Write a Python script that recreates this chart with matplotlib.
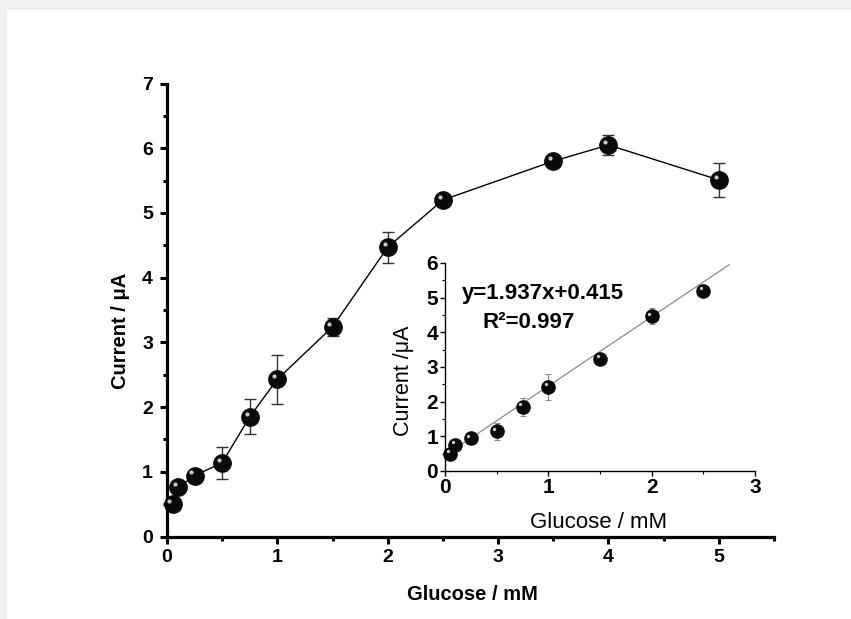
import matplotlib
matplotlib.use("Agg")
import matplotlib.pyplot as plt
import numpy as np
from matplotlib.transforms import offset_copy
from matplotlib.ticker import MultipleLocator
from matplotlib.patches import Rectangle

plt.rcParams['font.family'] = ['Liberation Sans', 'DejaVu Sans']

# ---- data ----
glucose = [0.05, 0.1, 0.25, 0.5, 0.75, 1.0, 1.5, 2.0, 2.5, 3.5, 4.0, 5.0]
current = [0.50, 0.76, 0.94, 1.14, 1.85, 2.43, 3.24, 4.47, 5.20, 5.80, 6.05, 5.51]
current_err = [0.05, 0.05, 0.05, 0.25, 0.27, 0.38, 0.14, 0.24, 0.05, 0.05, 0.15, 0.26]
n_linear = 9  # points used in the inset calibration
fit_slope = 2.0
fit_intercept = 0.45
fit_x = [0.03, 2.75]
eq_text = "y=1.937x+0.415"
r2_text = "R\u00b2=0.997"
main_xticks = [0, 1, 2, 3, 4, 5]
main_yticks = [0, 1, 2, 3, 4, 5, 6, 7]
inset_xticks = [0, 1, 2, 3]
inset_yticks = [0, 1, 2, 3, 4, 5, 6]

W, H = 851, 619
fig = plt.figure(figsize=(W / 100, H / 100), dpi=100)
fig.patch.set_facecolor('#f0f0f0')
fig.add_artist(Rectangle((7 / W, 0), 1, 1 - 10 / H, transform=fig.transFigure,
                         facecolor='white', edgecolor='none', zorder=-10))

def px(x0, y0, x1, y1):
    return [x0 / W, 1 - y1 / H, (x1 - x0) / W, (y1 - y0) / H]

# ---- main axes ----
ax = fig.add_axes(px(167, 83.5, 774, 536.5))
ax.set_facecolor('none')
ax.set_xlim(0, 5.5)
ax.set_ylim(0, 7)
for s in ['top', 'right']:
    ax.spines[s].set_visible(False)
for s in ['left', 'bottom']:
    ax.spines[s].set_linewidth(2.3)
ax.set_xticks(main_xticks)
ax.set_yticks(main_yticks)
ax.xaxis.set_minor_locator(MultipleLocator(0.5))
ax.yaxis.set_minor_locator(MultipleLocator(0.5))
ax.tick_params(which='major', direction='out', length=5, width=2.2, labelsize=14, pad=4)
ax.tick_params(axis='y', which='major', pad=5)
ax.tick_params(which='minor', direction='out', length=3, width=2.2)
for lab in ax.get_xticklabels() + ax.get_yticklabels():
    lab.set_fontweight('bold')

ax.errorbar(glucose, current, yerr=current_err, fmt='none', ecolor='#333333',
            elinewidth=1.0, capsize=4, capthick=1.0, zorder=2)
ax.plot(glucose, current, '-', color='black', lw=1.0, zorder=2)
ax.plot(glucose, current, 'o', ms=12.5, mfc='#0a0a0a', mec='#0a0a0a', zorder=3, clip_on=False)
hl = offset_copy(ax.transData, fig=fig, x=-2.3, y=2.3, units='points')
ax.plot(glucose, current, 'o', ms=3.0, mfc='#c9c9d6', mec='none', transform=hl, zorder=4, clip_on=False)

fig.text(472 / W, 1 - 595 / H, 'Glucose / mM', ha='center', va='center',
         fontsize=14.5, fontweight='bold')
fig.text(120 / W, 1 - 331 / H, 'Current / \u03bcA', ha='center', va='center',
         fontsize=14.5, fontweight='bold', rotation=90)

# ---- inset ----
ix = fig.add_axes(px(445, 263, 755, 471))
ix.set_facecolor('none')
ix.set_xlim(0, 3)
ix.set_ylim(0, 6)
for s in ['top', 'right']:
    ix.spines[s].set_visible(False)
for s in ['left', 'bottom']:
    ix.spines[s].set_linewidth(1.0)
ix.set_xticks(inset_xticks)
ix.set_yticks(inset_yticks)
ix.xaxis.set_minor_locator(MultipleLocator(0.5))
ix.yaxis.set_minor_locator(MultipleLocator(0.5))
ix.tick_params(which='major', direction='out', length=3.5, width=1.0, labelsize=15, pad=1.5)
ix.tick_params(which='minor', direction='out', length=2, width=0.8)
for lab in ix.get_xticklabels() + ix.get_yticklabels():
    lab.set_fontweight('bold')

gx = glucose[:n_linear]
gy = current[:n_linear]
ge = current_err[:n_linear]
fx = np.array(fit_x)
ix.plot(fx, fit_slope * fx + fit_intercept, '-', color='#8a8a8a', lw=0.9, zorder=2)
ix.errorbar(gx, gy, yerr=ge, fmt='none', ecolor='#8a8a8a', elinewidth=0.8,
            capsize=2.5, capthick=0.8, zorder=2)
ix.plot(gx, gy, 'o', ms=9.5, mfc='#0a0a0a', mec='#0a0a0a', zorder=3, clip_on=False)
hl2 = offset_copy(ix.transData, fig=fig, x=-1.8, y=1.8, units='points')
ix.plot(gx, gy, 'o', ms=2.4, mfc='#c9c9d6', mec='none', transform=hl2, zorder=4, clip_on=False)

fig.text(462 / W, 1 - 293 / H, eq_text, ha='left', va='center', fontsize=16, fontweight='bold')
fig.text(482 / W, 1 - 323 / H, r2_text, ha='left', va='center', fontsize=16, fontweight='bold')
fig.text(599 / W, 1 - 522 / H, 'Glucose / mM', ha='center', va='center', fontsize=16)
fig.text(403 / W, 1 - 381 / H, 'Current /\u03bcA', ha='center', va='center', fontsize=15.5, rotation=90)

fig.savefig('out.png', dpi=100)
